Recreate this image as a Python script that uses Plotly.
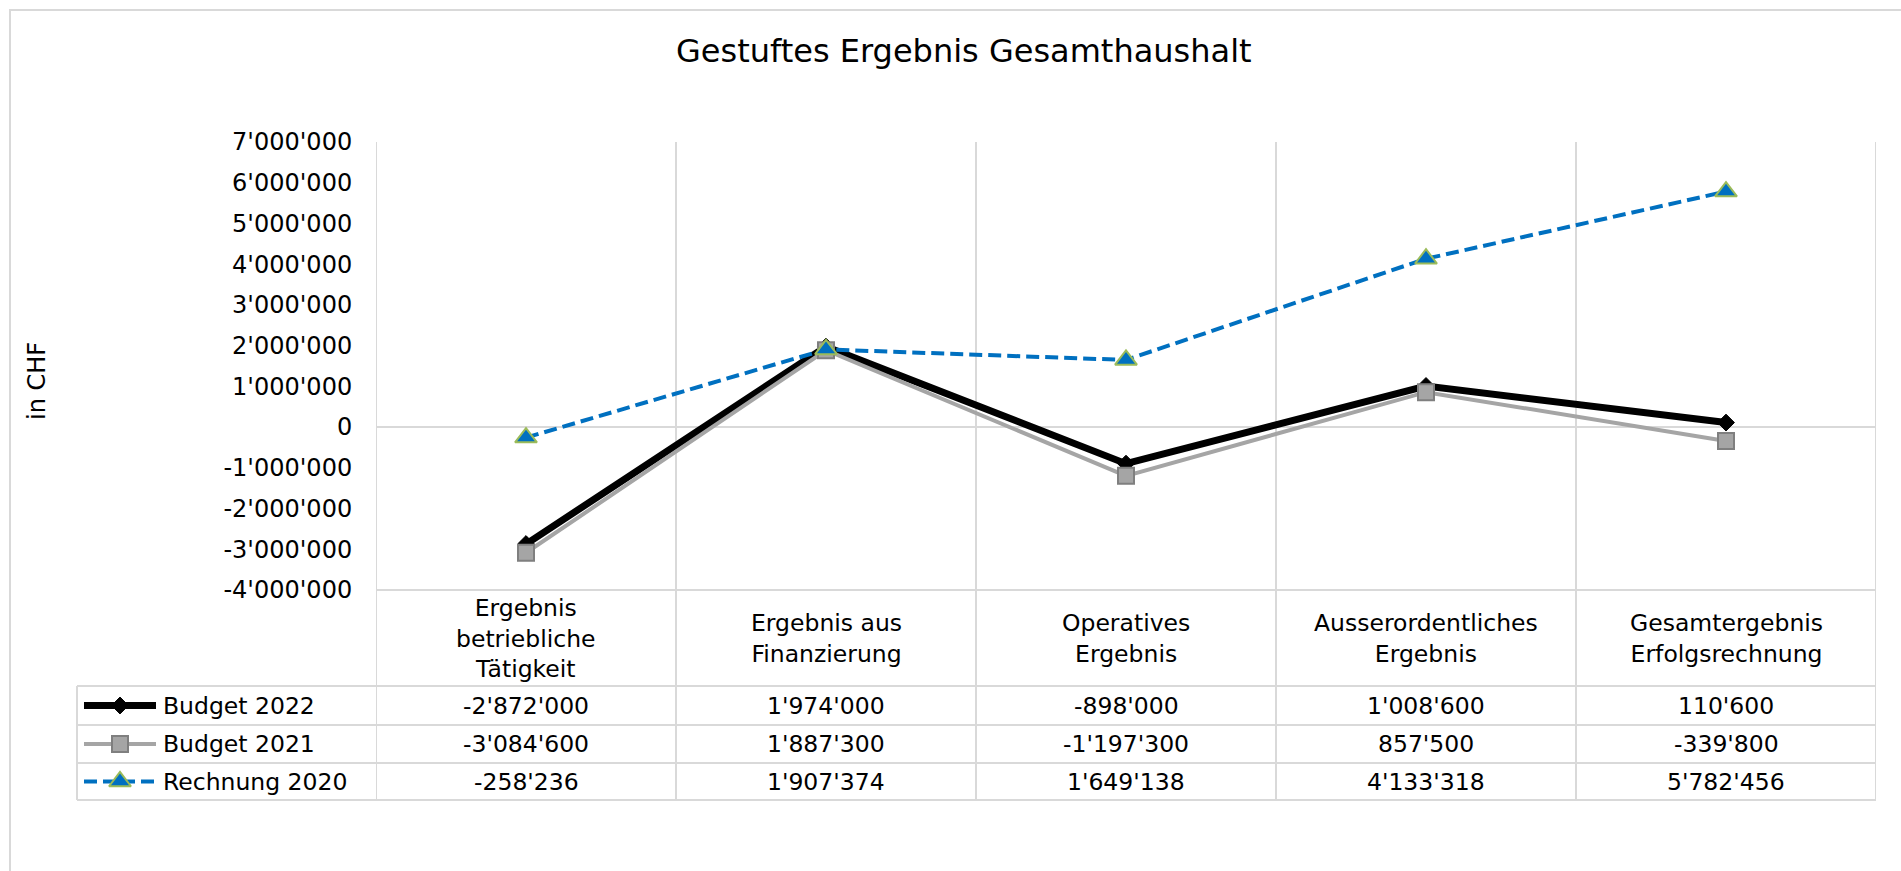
import plotly.graph_objects as go

# ---------------- data ----------------
categories = [
    "Ergebnis<br>betriebliche<br>Tätigkeit",
    "Ergebnis aus<br>Finanzierung",
    "Operatives<br>Ergebnis",
    "Ausserordentliches<br>Ergebnis",
    "Gesamtergebnis<br>Erfolgsrechnung",
]
series_names = ["Budget 2022", "Budget 2021", "Rechnung 2020"]
budget_2022 = [-2872000, 1974000, -898000, 1008600, 110600]
budget_2021 = [-3084600, 1887300, -1197300, 857500, -339800]
rechnung_2020 = [-258236, 1907374, 1649138, 4133318, 5782456]
y_ticks = [-4000000, -3000000, -2000000, -1000000, 0, 1000000, 2000000,
           3000000, 4000000, 5000000, 6000000, 7000000]
title_text = "Gestuftes Ergebnis Gesamthaushalt"
y_title = "in CHF"


def fmt(v):
    s = f"{abs(int(round(v))):,}".replace(",", "'")
    return ("-" if v < 0 else "") + s


y_ticktext = [fmt(v) for v in y_ticks]

# ---------------- layout geometry (pixels) ----------------
W, H = 1901, 871
PL, PR, PT, PB = 376, 1876, 142, 590   # plot area
TAB_L = 77
ROWS = [686, 725, 763, 800]
FONT = "DejaVu Sans, Verdana, sans-serif"
FS = 23.5
FS_TICK = 24
GRID = "#D9D9D9"


def fx(x):
    return x / W


def fy(y):
    return 1 - y / H


styles = [
    dict(line=dict(color="#000000", width=7),
         marker=dict(symbol="diamond", size=13, color="#000000",
                     line=dict(color="#000000", width=1))),
    dict(line=dict(color="#A5A5A5", width=4),
         marker=dict(symbol="square", size=16, color="#A5A5A5",
                     line=dict(color="#7F7F7F", width=2))),
    dict(line=dict(color="#0070C0", width=4, dash="13px,6px"),
         marker=dict(symbol="triangle-up", size=19, color="#0070C0",
                     line=dict(color="#9BBB59", width=2))),
]
all_series = [budget_2022, budget_2021, rechnung_2020]
xs = list(range(len(categories)))

fig = go.Figure()
for name, vals, st in zip(series_names, all_series, styles):
    fig.add_trace(go.Scatter(x=xs, y=vals, name=name, mode="lines+markers",
                             line=st["line"], marker=st["marker"],
                             cliponaxis=False, showlegend=False,
                             xaxis="x", yaxis="y"))

# legend keys inside the data table (overlay pixel axes)
for i, (name, st) in enumerate(zip(series_names, styles)):
    yc = (ROWS[i] + ROWS[i + 1]) / 2
    fig.add_trace(go.Scatter(x=[84, 120, 156], y=[yc, yc, yc], mode="lines",
                             line=st["line"], showlegend=False,
                             hoverinfo="skip", xaxis="x2", yaxis="y2",
                             cliponaxis=False))
    m = dict(st["marker"])
    fig.add_trace(go.Scatter(x=[120], y=[yc], mode="markers", marker=m,
                             showlegend=False, hoverinfo="skip",
                             xaxis="x2", yaxis="y2", cliponaxis=False))

shapes = []
# outer chart border
shapes.append(dict(type="rect", xref="paper", yref="paper",
                   x0=fx(10), x1=fx(W + 20), y0=fy(10), y1=fy(H + 20),
                   line=dict(color=GRID, width=2), fillcolor="rgba(0,0,0,0)",
                   layer="below"))
# vertical grid / table column lines
for k in range(len(categories) + 1):
    shapes.append(dict(type="line", xref="x", yref="paper",
                       x0=k - 0.5, x1=k - 0.5, y0=fy(PT), y1=fy(ROWS[-1]),
                       line=dict(color=GRID, width=2), layer="below"))
# table left border
shapes.append(dict(type="line", xref="paper", yref="paper",
                   x0=fx(TAB_L), x1=fx(TAB_L), y0=fy(ROWS[0]), y1=fy(ROWS[-1]),
                   line=dict(color=GRID, width=2), layer="below"))
# bottom of plot / top of category row
shapes.append(dict(type="line", xref="paper", yref="paper",
                   x0=fx(PL), x1=fx(PR), y0=fy(PB), y1=fy(PB),
                   line=dict(color=GRID, width=2), layer="below"))
for r in ROWS:
    shapes.append(dict(type="line", xref="paper", yref="paper",
                       x0=fx(TAB_L), x1=fx(PR), y0=fy(r), y1=fy(r),
                       line=dict(color=GRID, width=2), layer="below"))

annotations = []
annotations.append(dict(text=title_text, xref="paper", yref="paper",
                        x=fx(964), y=fy(51), xanchor="center", yanchor="middle",
                        showarrow=False, font=dict(family=FONT, size=32, color="#000000")))
annotations.append(dict(text=y_title, xref="paper", yref="paper",
                        x=fx(37), y=fy(381), xanchor="center", yanchor="middle",
                        textangle=-90, showarrow=False,
                        font=dict(family=FONT, size=FS_TICK, color="#000000")))
# category labels
for k, c in enumerate(categories):
    annotations.append(dict(text=c, xref="x", yref="paper", x=k, y=fy(638),
                            xanchor="center", yanchor="middle", showarrow=False,
                            font=dict(family=FONT, size=FS, color="#000000")))
# table rows
for i, (name, vals) in enumerate(zip(series_names, all_series)):
    yc = (ROWS[i] + ROWS[i + 1]) / 2
    annotations.append(dict(text=name, xref="paper", yref="paper",
                            x=fx(161), y=fy(yc), xanchor="left", yanchor="middle",
                            showarrow=False,
                            font=dict(family=FONT, size=FS, color="#000000")))
    for k, v in enumerate(vals):
        annotations.append(dict(text=fmt(v), xref="x", yref="paper",
                                x=k, y=fy(yc), xanchor="center", yanchor="middle",
                                showarrow=False,
                                font=dict(family=FONT, size=FS, color="#000000")))

fig.update_layout(
    template="none",
    width=W, height=H, autosize=False,
    margin=dict(l=0, r=0, t=0, b=0, pad=0, autoexpand=False),
    paper_bgcolor="white", plot_bgcolor="rgba(0,0,0,0)",
    font=dict(family=FONT, size=FS, color="#000000"),
    showlegend=False,
    xaxis=dict(domain=[fx(PL), fx(PR)], range=[-0.5, len(categories) - 0.5],
               showgrid=False, zeroline=False, showticklabels=False,
               showline=False, ticks="", fixedrange=True, automargin=False),
    yaxis=dict(domain=[fy(PB), fy(PT)], range=[y_ticks[0], y_ticks[-1]],
               tickvals=y_ticks, ticktext=y_ticktext, showgrid=False,
               zeroline=True, zerolinecolor=GRID, zerolinewidth=2,
               showline=False, ticks="outside", ticklen=18,
               tickcolor="rgba(0,0,0,0)",
               tickfont=dict(family=FONT, size=FS_TICK, color="#000000"),
               fixedrange=True, automargin=False),
    xaxis2=dict(domain=[0, 1], range=[0, W], visible=False, anchor="y2",
                showticklabels=False, automargin=False, fixedrange=True),
    yaxis2=dict(domain=[0, 1], range=[H, 0], visible=False, anchor="x2",
                showticklabels=False, automargin=False, fixedrange=True),
    shapes=shapes, annotations=annotations,
)

fig.write_html("out.html", config={"displayModeBar": False},
               post_script="document.body.style.margin='0';")
